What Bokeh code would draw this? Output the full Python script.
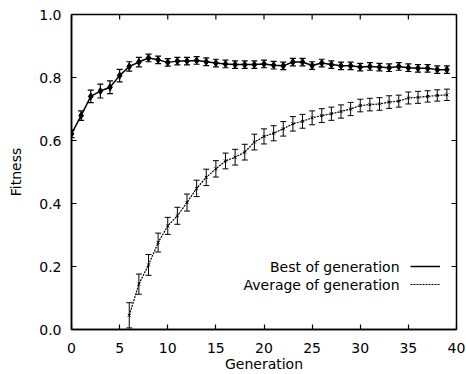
import numpy as np
from bokeh.plotting import figure
from bokeh.models import (ColumnDataSource, Whisker, TeeHead, Range1d, FixedTicker,
                          Legend, LegendItem, Label)
from bokeh.embed import file_html
from bokeh.resources import INLINE

gen_best = list(range(0, 40))
best = [0.621, 0.679, 0.740, 0.757, 0.769, 0.806, 0.835, 0.849, 0.862, 0.856,
        0.848, 0.852, 0.852, 0.854, 0.850, 0.846, 0.843, 0.841, 0.841, 0.841,
        0.843, 0.839, 0.837, 0.849, 0.849, 0.838, 0.846, 0.841, 0.837, 0.837,
        0.833, 0.835, 0.833, 0.831, 0.835, 0.831, 0.829, 0.829, 0.825, 0.825]
best_err = [0.012, 0.015, 0.020, 0.022, 0.020, 0.020, 0.015, 0.015, 0.012, 0.012,
            0.012, 0.012, 0.012, 0.012, 0.012, 0.012, 0.012, 0.012, 0.012, 0.012,
            0.012, 0.012, 0.012, 0.012, 0.012, 0.012, 0.012, 0.012, 0.012, 0.012,
            0.012, 0.012, 0.012, 0.012, 0.012, 0.012, 0.012, 0.012, 0.012, 0.012]

gen_avg = list(range(6, 40))
avg = [0.045, 0.144, 0.205, 0.276, 0.329, 0.361, 0.403, 0.448, 0.483, 0.510,
       0.535, 0.547, 0.563, 0.595, 0.613, 0.623, 0.637, 0.653, 0.661, 0.672,
       0.679, 0.685, 0.692, 0.700, 0.711, 0.714, 0.716, 0.722, 0.725, 0.735,
       0.737, 0.740, 0.743, 0.745]
avg_err = [0.040, 0.032, 0.033, 0.030, 0.027, 0.027, 0.027, 0.026, 0.026, 0.026,
           0.025, 0.025, 0.025, 0.025, 0.024, 0.024, 0.023, 0.023, 0.022, 0.022,
           0.022, 0.021, 0.021, 0.021, 0.020, 0.020, 0.020, 0.020, 0.019, 0.019,
           0.019, 0.018, 0.018, 0.018]

x_ticks = [0, 5, 10, 15, 20, 25, 30, 35, 40]
y_ticks = [0.0, 0.2, 0.4, 0.6, 0.8, 1.0]
series_labels = ["Best of generation", "Average of generation"]

FONT = "DejaVu Sans"
FS = "14px"
X0, X1, Y0, Y1 = 0, 40, 0.0, 1.0

p = figure(width=466, height=374, output_backend="svg", toolbar_location=None,
           x_range=Range1d(X0, X1), y_range=Range1d(Y0, Y1),
           min_border_left=71, min_border_right=10, min_border_top=14, min_border_bottom=45)
p.grid.visible = False
p.outline_line_color = "black"
p.outline_line_width = 1.5
p.background_fill_color = "white"
p.border_fill_color = "white"

for ax in (p.xaxis[0], p.yaxis[0]):
    ax.major_tick_in = 5
    ax.major_tick_out = 0
    ax.minor_tick_in = 0
    ax.minor_tick_out = 0
    ax.axis_line_color = "black"
    ax.axis_line_width = 1.5
    ax.major_tick_line_color = "black"
    ax.major_tick_line_width = 1.2
    ax.major_label_text_font = FONT
    ax.major_label_text_font_size = FS
    ax.major_label_text_color = "black"
    ax.axis_label_text_font = FONT
    ax.axis_label_text_font_size = FS
    ax.axis_label_text_font_style = "normal"
    ax.axis_label_text_color = "black"

p.xaxis.ticker = FixedTicker(ticks=x_ticks)
p.yaxis.ticker = FixedTicker(ticks=y_ticks)
p.xaxis.major_label_overrides = {t: str(t) for t in x_ticks}
p.yaxis.major_label_overrides = {t: f"{t:.1f}" for t in y_ticks}
p.xaxis.axis_label = "Generation"
p.yaxis.axis_label = "Fitness"
p.xaxis.major_label_text_line_height = 1.0
p.xaxis.axis_label_text_line_height = 1.0
p.xaxis.axis_label_standoff = 0
p.yaxis.axis_label_standoff = 12
p.xaxis.major_label_standoff = 13
p.yaxis.major_label_standoff = 10

# mirrored inward ticks on top and right edges (derived from tick lists)
tick_len_x = 5 / 385 * (X1 - X0)
tick_len_y = 5 / 315 * (Y1 - Y0)
p.segment(x0=x_ticks, y0=[Y1] * len(x_ticks), x1=x_ticks, y1=[Y1 - tick_len_y] * len(x_ticks),
          line_color="black", line_width=1.2)
p.segment(x0=[X1] * len(y_ticks), y0=y_ticks, x1=[X1 - tick_len_x] * len(y_ticks), y1=y_ticks,
          line_color="black", line_width=1.2)

bsrc = ColumnDataSource(dict(x=gen_best, y=best,
                             lo=[b - e for b, e in zip(best, best_err)],
                             hi=[b + e for b, e in zip(best, best_err)]))
asrc = ColumnDataSource(dict(x=gen_avg, y=avg,
                             lo=[a - e for a, e in zip(avg, avg_err)],
                             hi=[a + e for a, e in zip(avg, avg_err)]))

r_best = p.line("x", "y", source=bsrc, line_color="black", line_width=1.5)
p.scatter("x", "y", source=bsrc, marker="diamond", size=7, color="black")
wb = Whisker(source=bsrc, base="x", lower="lo", upper="hi", line_color="black", line_width=1.2,
             upper_head=TeeHead(size=6, line_color="black", line_width=1.2),
             lower_head=TeeHead(size=6, line_color="black", line_width=1.2))
p.add_layout(wb)

r_avg = p.line("x", "y", source=asrc, line_color="black", line_width=1.2, line_dash="2 1")
p.scatter("x", "y", source=asrc, marker="x", size=4, color="black")
wa = Whisker(source=asrc, base="x", lower="lo", upper="hi", line_color="black", line_width=1.0,
             upper_head=TeeHead(size=6, line_color="black", line_width=1.0),
             lower_head=TeeHead(size=6, line_color="black", line_width=1.0))
p.add_layout(wa)

# legend: sample lines via Legend (blank labels), texts right-aligned to their left
legend = Legend(items=[LegendItem(label=" ", renderers=[r_best]),
                       LegendItem(label=" ", renderers=[r_avg])],
                location=(339, 36))
legend.border_line_color = None
legend.background_fill_alpha = 0
legend.glyph_width = 30
legend.glyph_height = 18
legend.label_height = 18
legend.label_text_font_size = "6px"
legend.label_standoff = 0
legend.spacing = 0
legend.padding = 0
legend.margin = 0
p.add_layout(legend, "center")

for i, txt in enumerate(series_labels):
    p.add_layout(Label(x=339, y=63 - 18 * i, x_units="screen", y_units="screen",
                       text=txt, text_align="right", text_baseline="middle",
                       x_offset=-11, text_font=FONT, text_font_size=FS, text_color="black"))

open("out.html", "w").write(file_html(p, INLINE))
